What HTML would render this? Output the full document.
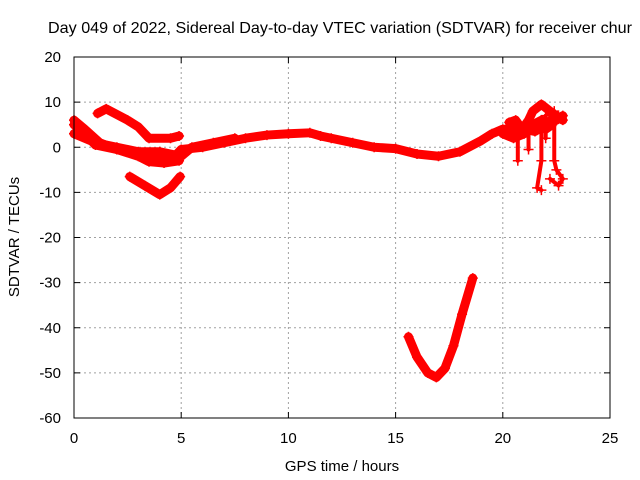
<!DOCTYPE html>
<html><head><meta charset="utf-8"><style>
html,body{margin:0;padding:0;background:#fff}
svg{display:block;font-family:"Liberation Sans",sans-serif}
</style></head><body>
<svg id="chart" width="640" height="480" viewBox="0 0 640 480">
<rect width="640" height="480" fill="#fff"/>
<g id="grid"></g>
<g id="series"></g>
<rect x="74" y="57" width="536" height="361" fill="none" stroke="#000" stroke-width="1"/>
<g id="ticks"></g>
<text x="48" y="33" font-size="16" textLength="584" lengthAdjust="spacingAndGlyphs">Day 049 of 2022, Sidereal Day-to-day VTEC variation (SDTVAR) for receiver chur</text>
<text x="342" y="471" font-size="15" text-anchor="middle">GPS time / hours</text>
<text x="19" y="237" font-size="15" text-anchor="middle" transform="rotate(-90 19 237)">SDTVAR / TECUs</text>
</svg>
<script>
const xTicks=[0,5,10,15,20,25];
const yTicks=[20,10,0,-10,-20,-30,-40,-50,-60];
const trackMain=[[0,5],[0.5,3],[1,0.5],[2,-0.5],[3,-1.5],[4,-2.5],[4.7,-2],[5,-0.5],[6,0],[7,1],[8,2],[9,2.7],[10,3],[11,3.2],[11.5,2.5],[12,2],[13,1],[14,0],[15,-0.3],[16,-1.5],[17,-2],[18,-1],[19,1.5],[19.5,3],[20,4],[21,4],[21.5,3.5],[22,5],[22.5,7],[22.8,6]];
const trackUpper=[[1.1,7.5],[1.5,8.5],[2.5,6],[3,4.5],[3.5,2],[4.5,2],[4.9,2.5]];
const trackLower=[[2.6,-6.5],[3.3,-8.5],[4,-10.5],[4.5,-9],[4.95,-6.5]];
const trackMid=[[0,6],[0.5,4],[1.2,1],[2,-0.5],[3,-2],[3.5,-3.2],[4.2,-3.5],[4.9,-3]];
const trackBand=[[0,3],[1,1],[2,0],[3,-1],[4,-1],[5,-2],[5.5,0],[6.5,1],[7.5,2]];
const trackDeep=[[15.6,-42],[16,-46.5],[16.5,-50],[16.9,-51],[17.3,-49],[17.7,-44],[18.1,-37],[18.6,-29]];
const trackRight=[[20.3,5.5],[20.6,6],[20.9,4],[21.2,6],[21.4,8],[21.8,9.5],[22.2,8],[22.5,6],[22.8,7]];
const trackRight2=[[20,3],[20.5,2],[21,3],[21.4,5],[21.8,6],[22,4],[22.3,5]];
const spike1=[[20.7,3],[20.7,-3]];
const spike2=[[21.2,4],[21.2,-0.5]];
const spike3=[[21.8,6],[21.8,-3],[21.6,-9],[21.8,-9.5]];
const spike4=[[22.4,8],[22.4,-3],[22.5,-5],[22.8,-7],[22.6,-8.5],[22.2,-7]];
const spike5=[[22.0,7],[22.0,2]];
const tracks=[trackMain,trackUpper,trackLower,trackMid,trackBand,trackDeep,trackRight,trackRight2,spike1,spike2,spike3,spike4,spike5];
const X0=74,X1=610,Y0=57,Y1=418,xMin=0,xMax=25,yMin=-60,yMax=20;
function sx(t){return X0+(t-xMin)/(xMax-xMin)*(X1-X0);}
function sy(v){return Y1-(v-yMin)/(yMax-yMin)*(Y1-Y0);}
const NS="http://www.w3.org/2000/svg";
function mk(tag,attrs,parent){const e=document.createElementNS(NS,tag);for(const k in attrs)e.setAttribute(k,attrs[k]);parent.appendChild(e);return e;}
const grid=document.getElementById('grid'),ticks=document.getElementById('ticks'),series=document.getElementById('series');
xTicks.forEach(t=>{const x=sx(t);
 if(t>xMin&&t<xMax){const g=mk('line',{x1:x,y1:Y0,x2:x,y2:Y1,stroke:'#a0a0a0','stroke-dasharray':'2,3'},grid);
 
 }
 mk('line',{x1:x,y1:Y1,x2:x,y2:Y1-6,stroke:'#000'},ticks);mk('line',{x1:x,y1:Y0,x2:x,y2:Y0+6,stroke:'#000'},ticks);
 const l=mk('text',{x:x,y:443,'font-size':15,'text-anchor':'middle'},ticks);l.textContent=t;
 
 });
yTicks.forEach(v=>{const y=sy(v);
 if(v>yMin&&v<yMax){const g=mk('line',{x1:X0,y1:y,x2:X1,y2:y,stroke:'#a0a0a0','stroke-dasharray':'2,3'},grid);
 
 }
 mk('line',{x1:X0,y1:y,x2:X0+6,y2:y,stroke:'#000'},ticks);mk('line',{x1:X1,y1:y,x2:X1-6,y2:y,stroke:'#000'},ticks);
 const l=mk('text',{x:61,y:y+5,'font-size':15,'text-anchor':'end'},ticks);l.textContent=v;
 
 });
tracks.forEach((tr,i)=>{
 const p=mk('polyline',{points:tr.map(d=>sx(d[0])+','+sy(d[1])).join(' '),fill:'none',stroke:'#ff0000','stroke-width':i>=8?4:9,'stroke-linejoin':'round','stroke-linecap':'round'},series);
 
 
 tr.forEach(d=>{const x=sx(d[0]),y=sy(d[1]);
  const m=mk('path',{d:`M${x-5},${y}H${x+5}M${x},${y-5}V${y+5}`,stroke:'#ff0000','stroke-width':1.5},series);
  
  });
});
</script>
</body></html>
